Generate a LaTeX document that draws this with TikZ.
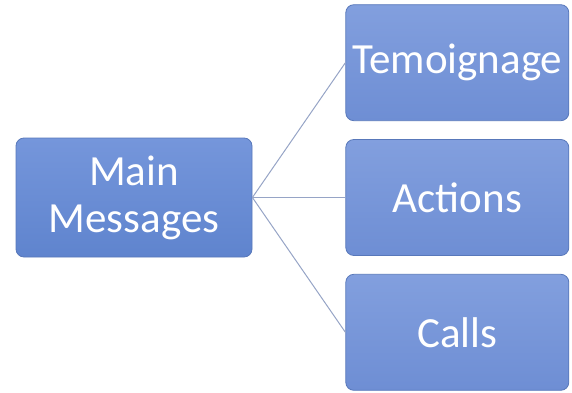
\documentclass[tikz,border=0pt]{standalone}
\usepackage{fontspec}
\setmainfont{Carlito}
\usepackage{tikz}
\usepackage{xcolor}
\usetikzlibrary{positioning}
\definecolor{maintop}{HTML}{7596DB}
\definecolor{mainbot}{HTML}{5F84CE}
\definecolor{subtop}{HTML}{829FDE}
\definecolor{subbot}{HTML}{6E8ED4}
\definecolor{boxedge}{HTML}{5878BA}
\definecolor{linkcol}{HTML}{96A4C6}

\begin{document}
\begin{tikzpicture}[
  x=1pt, y=1pt,
  node distance=18pt and 93pt,
  every node/.style={font=\fontsize{43}{47}\selectfont},
  topic/.style={rectangle, rounded corners=8pt, draw=boxedge, line width=0.8pt,
    text=white, align=center, inner sep=0pt},
  mainbox/.style={topic, top color=maintop, bottom color=mainbot,
    minimum width=236pt, minimum height=119pt},
  subbox/.style={topic, top color=subtop, bottom color=subbot,
    minimum width=223pt, minimum height=116pt},
  link/.style={linkcol, line width=1pt},
]
\useasboundingbox (0,0) rectangle (572,392);
% Main topic
\node[mainbox] (main) at (134,194.5) {Main\\Messages};

% Sub topics
\node[subbox, right=of main] (actions) {Actions};
\node[subbox, above=of actions] (temoin) {Temoignage};
\node[subbox, below=of actions] (calls) {Calls};

% Links
\draw[link] (main.east) -- (temoin.west);
\draw[link] (main.east) -- (actions.west);
\draw[link] (main.east) -- (calls.west);
\end{tikzpicture}
\end{document}
